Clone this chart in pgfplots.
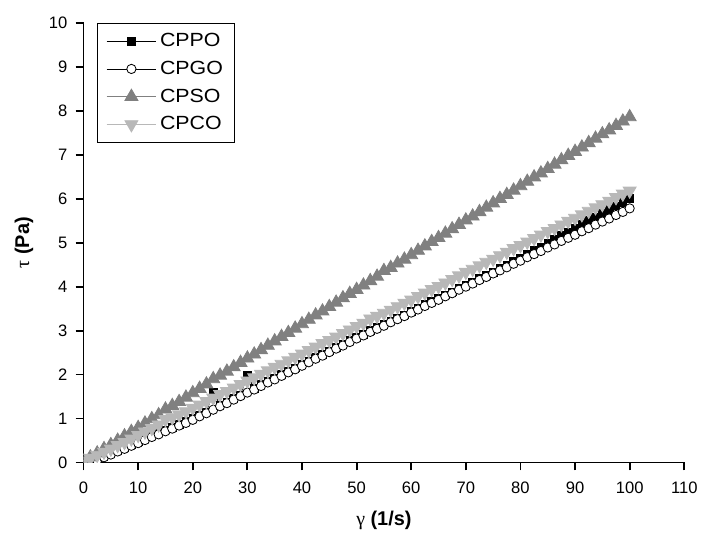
\documentclass[border=0pt]{standalone}
\usepackage{fontspec}
\setmainfont{Liberation Sans}
\newfontfamily\greekfont{Liberation Serif}
\newfontfamily\legfont[FakeStretch=1.12]{Liberation Sans}
\usepackage{pgfplots}
\usepackage{pgfplotstable}
\pgfplotsset{compat=1.18}

\definecolor{cpso}{HTML}{808080}
\definecolor{cpco}{HTML}{B8B8B8}

% shear rate (1/s) vs shear stress (Pa)
\pgfplotstableread{
x      CPPO  CPGO  CPSO  CPCO
0      nan   nan   0.03  0.04
1.25   nan   nan   0.12  0.10
2.5    0.07  0.05  0.21  0.17
3.75   0.14  0.12  0.31  0.24
5      0.21  0.18  0.40  0.31
6.25   0.28  0.25  0.50  0.39
7.5    0.34  0.31  0.60  0.46
8.75   0.41  0.38  0.70  0.54
10     0.47  0.44  0.79  0.62
11.25  0.54  0.51  0.89  0.70
12.5   0.61  0.58  0.99  0.78
13.75  0.67  0.64  1.08  0.86
15     0.74  0.71  1.21  0.98
16.25  0.80  0.77  1.29  1.02
17.5   0.87  0.84  1.38  1.09
18.75  0.93  0.90  1.48  1.16
20     1.00  0.97  1.58  1.24
21.25  1.08  1.05  1.68  1.31
22.5   1.15  1.12  1.78  1.39
23.75  1.60  1.20  1.90  1.47
25     1.31  1.28  1.98  1.55
26.25  1.38  1.35  2.07  1.62
27.5   1.46  1.43  2.17  1.70
28.75  1.54  1.51  2.27  1.78
30     1.98  1.59  2.37  1.86
31.25  1.69  1.66  2.46  1.93
32.5   1.77  1.74  2.56  2.01
33.75  1.85  1.82  2.66  2.09
35     1.92  1.89  2.76  2.17
36.25  2.00  1.97  2.86  2.24
37.5   2.08  2.05  2.95  2.32
38.75  2.15  2.12  3.05  2.40
40     2.23  2.20  3.15  2.47
41.25  2.31  2.28  3.25  2.55
42.5   2.39  2.36  3.35  2.63
43.75  2.46  2.43  3.44  2.71
45     2.54  2.51  3.54  2.78
46.25  2.62  2.59  3.64  2.86
47.5   2.69  2.66  3.74  2.94
48.75  2.77  2.74  3.84  3.02
50     2.85  2.82  3.93  3.10
51.25  2.92  2.89  4.03  3.17
52.5   3.00  2.97  4.13  3.27
53.75  3.07  3.04  4.23  3.33
55     3.14  3.11  4.36  3.40
56.25  3.22  3.19  4.43  3.47
57.5   3.29  3.26  4.53  3.55
58.75  3.36  3.33  4.62  3.63
60     3.44  3.41  4.72  3.70
61.25  3.51  3.48  4.82  3.78
62.5   3.59  3.56  4.92  3.86
63.75  3.66  3.63  5.02  3.94
65     3.73  3.70  5.11  4.01
66.25  3.81  3.78  5.21  4.09
67.5   3.88  3.85  5.31  4.17
68.75  3.96  3.93  5.41  4.25
70     4.03  4.00  5.51  4.33
71.25  4.10  4.07  5.60  4.40
72.5   4.18  4.15  5.70  4.48
73.75  4.25  4.22  5.80  4.56
75     4.33  4.30  5.90  4.63
76.25  4.41  4.37  6.00  4.71
77.5   4.49  4.44  6.09  4.79
78.75  4.57  4.52  6.19  4.87
80     4.65  4.59  6.29  4.94
81.25  4.74  4.67  6.39  5.02
82.5   4.82  4.74  6.49  5.10
83.75  4.90  4.81  6.58  5.18
85     4.99  4.89  6.68  5.26
86.25  5.07  4.96  6.78  5.33
87.5   5.16  5.04  6.88  5.41
88.75  5.24  5.11  6.98  5.49
90     5.33  5.18  7.07  5.56
91.25  5.41  5.26  7.17  5.64
92.5   5.50  5.33  7.27  5.72
93.75  5.58  5.41  7.37  5.80
95     5.67  5.48  7.47  5.87
96.25  5.75  5.55  7.56  5.95
97.5   5.84  5.63  7.66  6.03
98.75  5.92  5.70  7.76  6.11
100    6.00  5.78  7.86  6.18
}\flowdata

\begin{document}
\begin{tikzpicture}
\begin{axis}[
    scale only axis,
    width=362.4pt, height=265.2pt,
    xmin=0, xmax=110, ymin=0, ymax=10,
    xtick={0,10,...,110}, ytick={0,1,...,10},
    axis x line*=bottom, axis y line*=left,
    axis line style={-, line width=1.1pt},
    tick align=outside,
    major tick length=4.8pt,
    tick style={line width=1.1pt, black},
    /pgf/number format/assume math mode=true,
    ticklabel style={font=\fontsize{10}{12}\selectfont},
    xticklabel style={yshift=-3.5pt},
    yticklabel style={xshift=-1.5pt},
    xlabel={{\greekfont γ} \textbf{(1/s)}},
    ylabel={{\greekfont τ} \textbf{(Pa)}},
    label style={font=\fontsize{12}{14}\selectfont},
    xlabel style={at={(axis description cs:0.5,0)}, anchor=center, yshift=-35pt},
    ylabel style={at={(axis description cs:-0.099,0.5)}, anchor=center},
    clip marker paths=true,
    legend style={at={(axis description cs:0.023,1)}, anchor=north west,
        draw=black, line width=0.6pt, font=\legfont\fontsize{11.5}{13}\selectfont,
        row sep=3.2pt, inner xsep=5pt, inner ysep=4pt},
    legend cell align=left,
    legend image code/.code={
        \draw[mark repeat=2, mark phase=2, #1] plot coordinates {(0pt,0pt) (15pt,0pt) (30pt,0pt)};
    },
]
\addplot[black, line width=0.5pt, mark=square*, mark size=2.3pt, mark options={fill=black}]
    table[x=x, y=CPPO] {\flowdata};
\addplot[black, line width=0.5pt, mark=*, mark size=2.8pt, mark options={fill=white, draw=black, line width=0.5pt}]
    table[x=x, y=CPGO] {\flowdata};
\addplot[cpso, line width=0.5pt, mark=triangle*, mark size=4.5pt, mark options={fill=cpso}]
    table[x=x, y=CPSO] {\flowdata};
\addplot[cpco, line width=0.5pt, mark=triangle*, mark size=4.5pt, mark options={fill=cpco, rotate=180}]
    table[x=x, y=CPCO] {\flowdata};
\legend{CPPO, CPGO, CPSO, CPCO}
\end{axis}
\path (-50.4pt,-40.8pt) rectangle (371.4pt,279pt);
\end{tikzpicture}
\end{document}
